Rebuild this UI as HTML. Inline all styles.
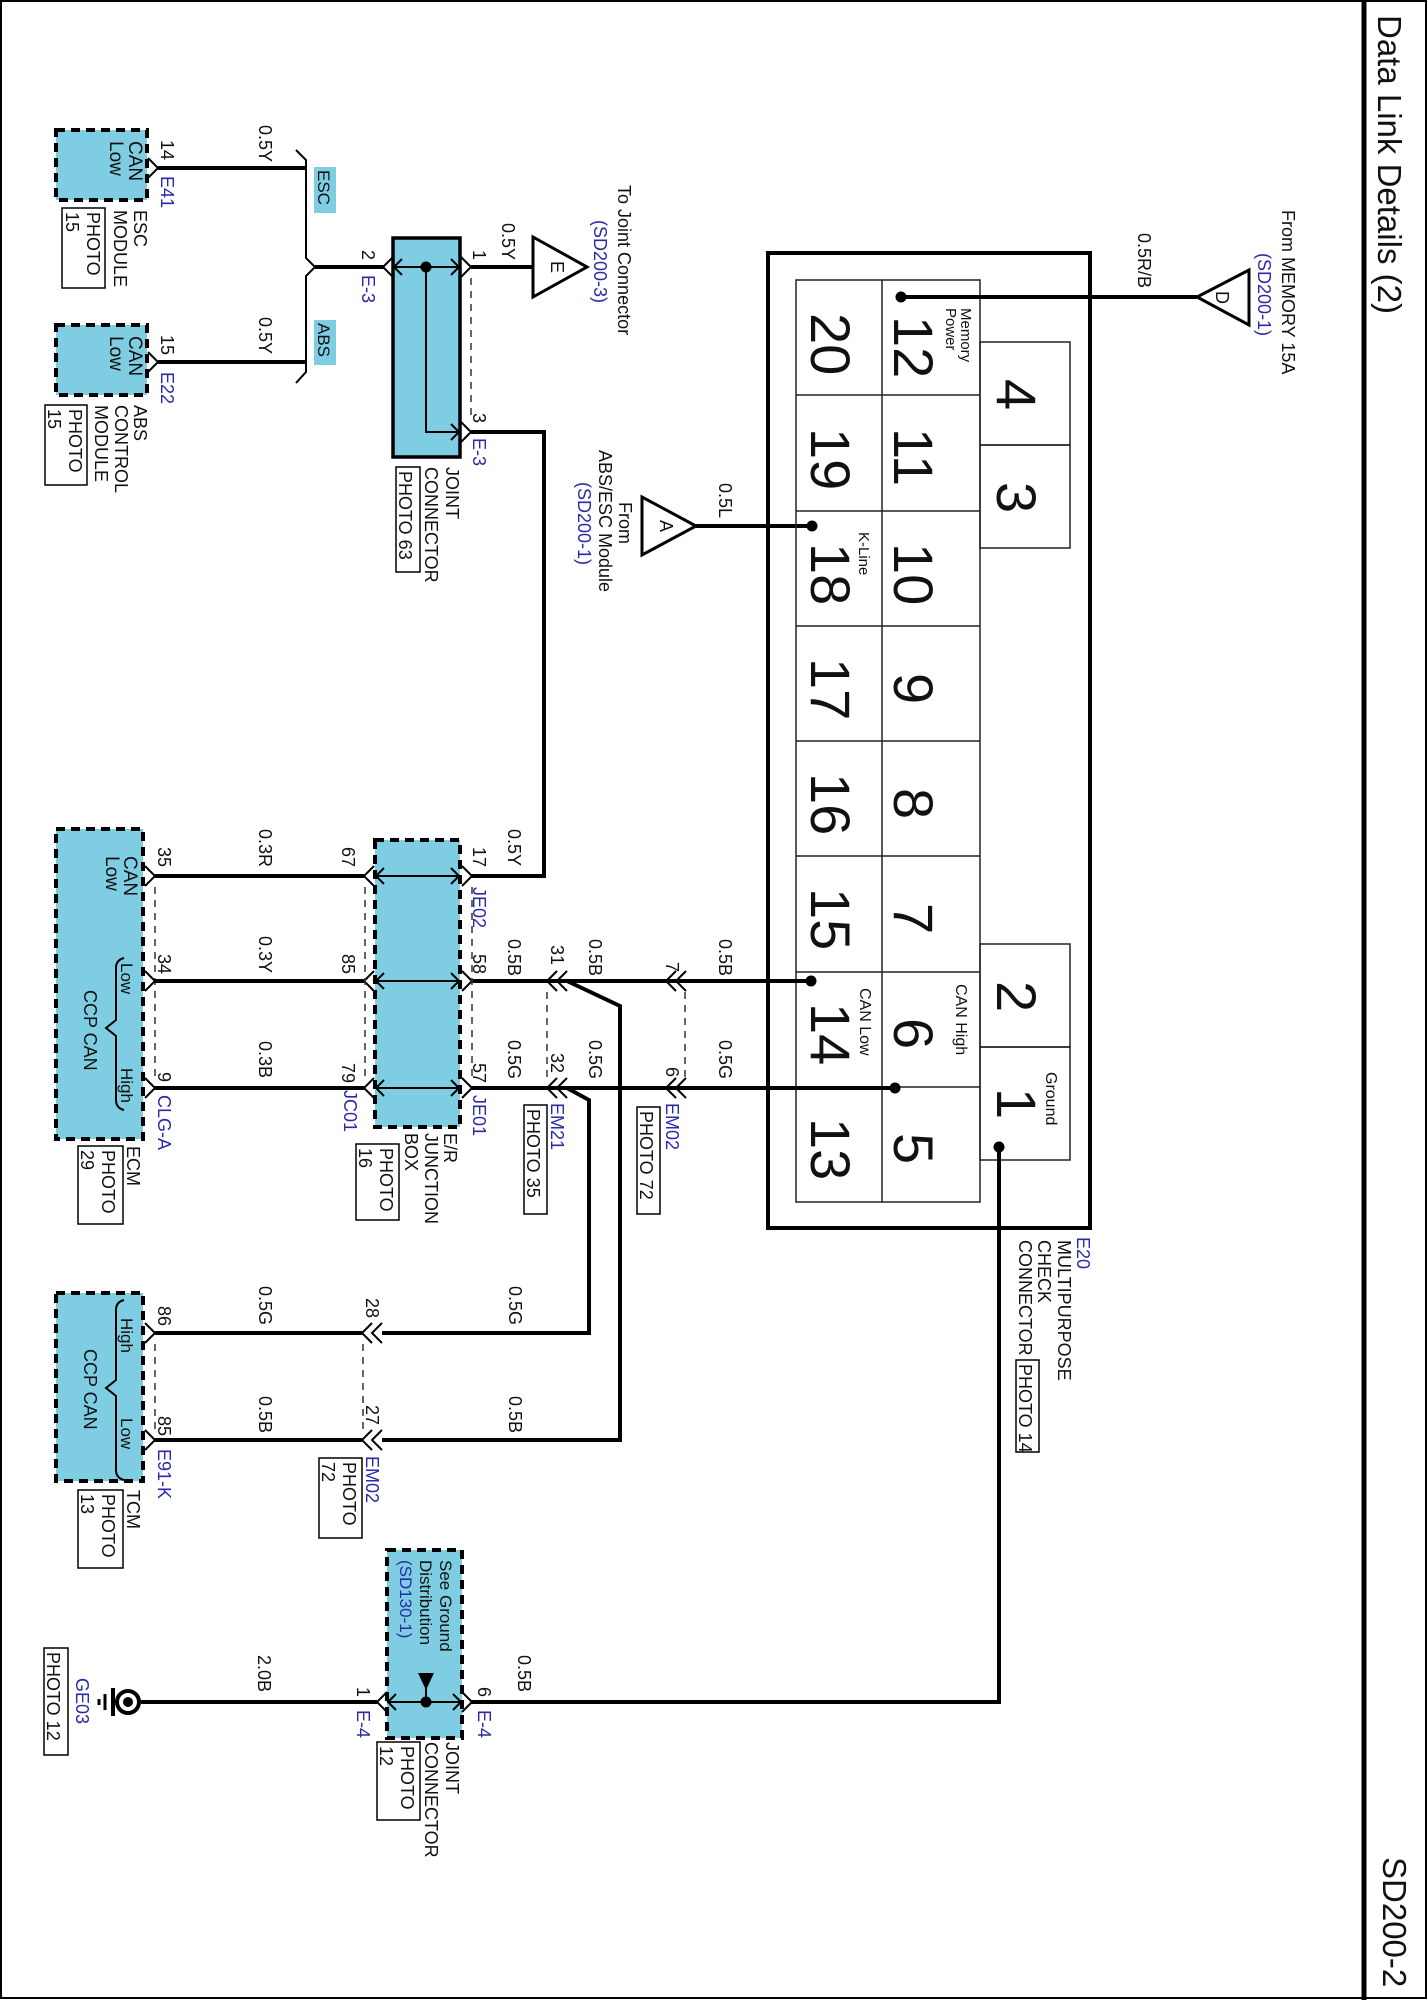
<!DOCTYPE html>
<html><head><meta charset="utf-8">
<style>
html,body{margin:0;padding:0;background:#fff;}
svg{display:block;}
text{font-family:"Liberation Sans",Arial,sans-serif;font-size:18px;fill:#111;}
.b{fill:#2a2aa8;}
.s{font-size:15px;}
.big{font-size:56px;}
.w{stroke:#000;stroke-width:4;fill:none;}
.th{stroke:#000;stroke-width:2;fill:none;}
.g{stroke:#222;stroke-width:1.5;fill:none;}
.d{stroke:#333;stroke-width:1.5;fill:none;stroke-dasharray:7 6;}
.box{fill:#7fcde2;stroke:#000;stroke-width:4;stroke-dasharray:9 6;}
.pb{fill:#fff;stroke:#000;stroke-width:1.5;}
</style></head><body>
<svg width="1428" height="2000" viewBox="0 0 1428 2000" xmlns="http://www.w3.org/2000/svg">
<rect x="1" y="1" width="1425" height="1997" fill="#fff" stroke="#000" stroke-width="2"/>
<line x1="1364" y1="0" x2="1364" y2="2000" stroke="#000" stroke-width="5"/>
<text transform="translate(1378,15) rotate(90)" style="font-size:33px">Data Link Details (2)</text>
<text transform="translate(1383,1857) rotate(90)" style="font-size:33px">SD200-2</text>

<!-- ESC module -->
<rect class="box" x="56" y="130" width="91" height="70"/>
<text transform="translate(129,141) rotate(90)" style="font-size:19px">CAN</text>
<text transform="translate(110,141) rotate(90)" style="font-size:19px">Low</text>
<text transform="translate(161,140) rotate(90)">14</text>
<text class="b" transform="translate(161,176) rotate(90)">E41</text>
<text transform="translate(134,210) rotate(90)">ESC</text>
<text transform="translate(114,210) rotate(90)">MODULE</text>
<rect class="pb" x="62" y="208" width="43" height="80"/>
<text transform="translate(87,212) rotate(90)">PHOTO</text>
<text transform="translate(66,212) rotate(90)">15</text>
<polyline class="th" points="148,158 158,168 148,178"/>
<line class="w" x1="158" y1="168" x2="306" y2="168"/>
<text transform="translate(259,125) rotate(90)">0.5Y</text>

<!-- ABS module -->
<rect class="box" x="56" y="325" width="91" height="70"/>
<text transform="translate(129,336) rotate(90)" style="font-size:19px">CAN</text>
<text transform="translate(110,336) rotate(90)" style="font-size:19px">Low</text>
<text transform="translate(161,335) rotate(90)">15</text>
<text class="b" transform="translate(161,372) rotate(90)">E22</text>
<text transform="translate(134,405) rotate(90)">ABS</text>
<text transform="translate(115,405) rotate(90)">CONTROL</text>
<text transform="translate(95,405) rotate(90)">MODULE</text>
<rect class="pb" x="45" y="405" width="42" height="80"/>
<text transform="translate(69,409) rotate(90)">PHOTO</text>
<text transform="translate(48,409) rotate(90)">15</text>
<polyline class="th" points="148,352 158,362 148,372"/>
<line class="w" x1="158" y1="362" x2="306" y2="362"/>
<text transform="translate(259,317) rotate(90)">0.5Y</text>

<!-- bracket -->
<path class="th" d="M296,150 L306,160 L306,258 L315,267 L306,276 L306,372 L296,383"/>
<line class="w" x1="315" y1="267" x2="384" y2="267"/>
<rect x="314" y="167" width="22" height="46" fill="#7fcde2"/>
<text transform="translate(318,170) rotate(90)" style="font-size:17px">ESC</text>
<rect x="314" y="320" width="22" height="45" fill="#7fcde2"/>
<text transform="translate(318,323) rotate(90)" style="font-size:17px">ABS</text>

<!-- E-3 joint connector -->
<rect x="393" y="238" width="67" height="219" fill="#7fcde2" stroke="#000" stroke-width="3.5"/>
<line class="th" x1="393" y1="267" x2="460" y2="267"/>
<polyline class="th" points="402,259 394,267 402,275"/>
<polyline class="th" points="451,259 459,267 451,275"/>
<circle cx="426" cy="267" r="5.5" fill="#000"/>
<path class="th" d="M426,267 V432 H460"/>
<polyline class="th" points="451,424 459,432 451,440"/>
<polyline class="th" points="393,257 383,267 393,277"/>
<polyline class="th" points="461,257 471,267 461,277"/>
<polyline class="th" points="461,422 471,432 461,442"/>
<line class="d" x1="471" y1="278" x2="471" y2="420"/>
<text transform="translate(362,250) rotate(90)">2</text>
<text class="b" transform="translate(362,275) rotate(90)">E-3</text>
<text transform="translate(473,250) rotate(90)">1</text>
<text transform="translate(502,223) rotate(90)">0.5Y</text>
<text transform="translate(473,413) rotate(90)">3</text>
<text class="b" transform="translate(473,438) rotate(90)">E-3</text>
<text transform="translate(446,467) rotate(90)">JOINT</text>
<text transform="translate(425,467) rotate(90)">CONNECTOR</text>
<rect class="pb" x="396" y="467" width="24" height="105"/>
<text transform="translate(399,471) rotate(90)">PHOTO 63</text>
<line class="w" x1="471" y1="267" x2="533" y2="267"/>
<polygon points="533,237 533,297 587,267" fill="#fff" stroke="#000" stroke-width="3"/>
<text transform="translate(551,261) rotate(90)">E</text>
<text transform="translate(618,185) rotate(90)">To Joint Connector</text>
<text class="b" transform="translate(594,220) rotate(90)">(SD200-3)</text>
<path class="w" d="M471,432 H544 V876 H471"/>

<!-- Triangle A -->
<polygon points="642,497 642,555 696,526" fill="#fff" stroke="#000" stroke-width="3"/>
<text transform="translate(660,520) rotate(90)">A</text>
<line class="w" x1="696" y1="526" x2="812" y2="526"/>
<circle cx="812" cy="526" r="5.5" fill="#000"/>
<text transform="translate(719,483) rotate(90)">0.5L</text>
<text transform="translate(619,502) rotate(90)">From</text>
<text transform="translate(599,450) rotate(90)">ABS/ESC Module</text>
<text class="b" transform="translate(578,482) rotate(90)">(SD200-1)</text>

<!-- Big connector E20 -->
<rect x="768" y="253" width="322" height="975" fill="none" stroke="#000" stroke-width="4"/>
<rect class="g" x="796" y="280" width="184" height="922"/>
<line class="g" x1="882" y1="280" x2="882" y2="1202"/>
<g class="g">
<line x1="796" y1="395" x2="980" y2="395"/><line x1="796" y1="511" x2="980" y2="511"/>
<line x1="796" y1="626" x2="980" y2="626"/><line x1="796" y1="741" x2="980" y2="741"/>
<line x1="796" y1="856" x2="980" y2="856"/><line x1="796" y1="972" x2="980" y2="972"/>
<line x1="796" y1="1087" x2="980" y2="1087"/>
</g>
<rect class="g" x="980" y="342" width="90" height="103"/>
<rect class="g" x="980" y="445" width="90" height="103"/>
<rect class="g" x="980" y="944" width="90" height="103"/>
<rect class="g" x="980" y="1047" width="90" height="113"/>
<g class="big">
<text class="big" transform="translate(811,313) rotate(90)">20</text>
<text class="big" transform="translate(811,428) rotate(90)">19</text>
<text class="big" transform="translate(811,543) rotate(90)">18</text>
<text class="big" transform="translate(811,658) rotate(90)">17</text>
<text class="big" transform="translate(811,773) rotate(90)">16</text>
<text class="big" transform="translate(811,888) rotate(90)">15</text>
<text class="big" transform="translate(811,1003) rotate(90)">14</text>
<text class="big" transform="translate(811,1118) rotate(90)">13</text>
<text class="big" transform="translate(894,316) rotate(90)">12</text>
<text class="big" transform="translate(894,428) rotate(90)">11</text>
<text class="big" transform="translate(894,543) rotate(90)">10</text>
<text class="big" transform="translate(894,673) rotate(90)">9</text>
<text class="big" transform="translate(894,788) rotate(90)">8</text>
<text class="big" transform="translate(894,903) rotate(90)">7</text>
<text class="big" transform="translate(894,1018) rotate(90)">6</text>
<text class="big" transform="translate(894,1133) rotate(90)">5</text>
<text class="big" transform="translate(997,379) rotate(90)">4</text>
<text class="big" transform="translate(997,482) rotate(90)">3</text>
<text class="big" transform="translate(997,981) rotate(90)">2</text>
<text class="big" transform="translate(997,1088) rotate(90)">1</text>
</g>
<text class="s" transform="translate(961,308) rotate(90)">Memory</text>
<text class="s" transform="translate(946,308) rotate(90)">Power</text>
<text class="s" transform="translate(859,532) rotate(90)">K-Line</text>
<text style="font-size:16px" transform="translate(860,988) rotate(90)">CAN Low</text>
<text style="font-size:16px" transform="translate(956,984) rotate(90)">CAN High</text>
<text style="font-size:16px" transform="translate(1046,1072) rotate(90)">Ground</text>
<circle cx="901" cy="297" r="5.5" fill="#000"/>
<line class="w" x1="901" y1="297" x2="1197" y2="297"/>
<polygon points="1249,270 1249,325 1197,297" fill="#fff" stroke="#000" stroke-width="3"/>
<text transform="translate(1216,291) rotate(90)">D</text>
<text transform="translate(1138,233) rotate(90)">0.5R/B</text>
<text transform="translate(1282,210) rotate(90)">From MEMORY  15A</text>
<text class="b" transform="translate(1258,253) rotate(90)">(SD200-1)</text>
<circle cx="811" cy="981" r="5.5" fill="#000"/>
<circle cx="895" cy="1088" r="5.5" fill="#000"/>
<circle cx="999" cy="1147" r="5.5" fill="#000"/>
<text class="b" transform="translate(1077,1237) rotate(90)">E20</text>
<text transform="translate(1058,1240) rotate(90)">MULTIPURPOSE</text>
<text transform="translate(1038,1240) rotate(90)">CHECK</text>
<text transform="translate(1019,1240) rotate(90)">CONNECTOR</text>
<rect class="pb" x="1016" y="1360" width="23" height="92"/>
<text transform="translate(1019,1364) rotate(90)">PHOTO 14</text>

<!-- main wires -->
<line class="w" x1="471" y1="981" x2="811" y2="981"/>
<line class="w" x1="471" y1="1088" x2="895" y2="1088"/>
<path class="w" d="M999,1147 V1702 H471"/>
<path class="w" d="M567,981 L620,1006 V1440 H382"/>
<path class="w" d="M567,1088 L589,1100 V1333 H382"/>
<!-- inline chevrons -->
<g class="th">
<polyline points="557,971 547,981 557,991"/><polyline points="567,971 557,981 567,991"/>
<polyline points="557,1078 547,1088 557,1098"/><polyline points="567,1078 557,1088 567,1098"/>
<polyline points="676,971 666,981 676,991"/><polyline points="686,971 676,981 686,991"/>
<polyline points="676,1078 666,1088 676,1098"/><polyline points="686,1078 676,1088 686,1098"/>
<polyline points="372,1323 362,1333 372,1343"/><polyline points="382,1323 372,1333 382,1343"/>
<polyline points="372,1430 362,1440 372,1450"/><polyline points="382,1430 372,1440 382,1450"/>
</g>
<line class="d" x1="547" y1="992" x2="547" y2="1078"/>
<line class="d" x1="685" y1="992" x2="685" y2="1078"/>
<line class="d" x1="363" y1="1344" x2="363" y2="1430"/>
<text transform="translate(551,945) rotate(90)">31</text>
<text transform="translate(551,1053) rotate(90)">32</text>
<text transform="translate(589,939) rotate(90)">0.5B</text>
<text transform="translate(589,1040) rotate(90)">0.5G</text>
<text class="b" transform="translate(551,1103) rotate(90)">EM21</text>
<rect class="pb" x="524" y="1105" width="23" height="109"/>
<text transform="translate(527,1109) rotate(90)">PHOTO 35</text>
<text transform="translate(666,962) rotate(90)">7</text>
<text transform="translate(666,1067) rotate(90)">6</text>
<text transform="translate(719,939) rotate(90)">0.5B</text>
<text transform="translate(719,1040) rotate(90)">0.5G</text>
<text class="b" transform="translate(666,1103) rotate(90)">EM02</text>
<rect class="pb" x="637" y="1107" width="23" height="107"/>
<text transform="translate(640,1111) rotate(90)">PHOTO 72</text>
<text transform="translate(508,829) rotate(90)">0.5Y</text>
<text transform="translate(508,939) rotate(90)">0.5B</text>
<text transform="translate(508,1040) rotate(90)">0.5G</text>

<!-- ECM -->
<rect class="box" x="56" y="829" width="87" height="310"/>
<text transform="translate(124,856) rotate(90)" style="font-size:19px">CAN</text>
<text transform="translate(106,856) rotate(90)" style="font-size:19px">Low</text>
<path class="th" d="M124,958 Q116,960 116,968 V1020 L106,1028 L116,1036 V1100 Q116,1108 124,1110"/>
<text transform="translate(121,963) rotate(90)" style="font-size:17px">Low</text>
<text transform="translate(121,1068) rotate(90)" style="font-size:17px">High</text>
<text transform="translate(84,990) rotate(90)">CCP CAN</text>
<text transform="translate(158,847) rotate(90)">35</text>
<text transform="translate(158,954) rotate(90)">34</text>
<text transform="translate(158,1072) rotate(90)">9</text>
<text class="b" transform="translate(158,1095) rotate(90)">CLG-A</text>
<line class="d" x1="155" y1="887" x2="155" y2="1077"/>
<g class="th">
<polyline points="145,866 155,876 145,886"/><polyline points="145,971 155,981 145,991"/><polyline points="145,1078 155,1088 145,1098"/>
</g>
<line class="w" x1="155" y1="876" x2="364" y2="876"/>
<line class="w" x1="155" y1="981" x2="364" y2="981"/>
<line class="w" x1="155" y1="1088" x2="364" y2="1088"/>
<text transform="translate(259,829) rotate(90)">0.3R</text>
<text transform="translate(259,936) rotate(90)">0.3Y</text>
<text transform="translate(259,1041) rotate(90)">0.3B</text>
<text transform="translate(127,1146) rotate(90)">ECM</text>
<rect class="pb" x="78" y="1146" width="45" height="78"/>
<text transform="translate(102,1150) rotate(90)">PHOTO</text>
<text transform="translate(81,1150) rotate(90)">29</text>

<!-- E/R junction box -->
<rect class="box" x="375" y="840" width="85" height="287"/>
<g class="th">
<line x1="375" y1="876" x2="460" y2="876"/><line x1="375" y1="981" x2="460" y2="981"/><line x1="375" y1="1088" x2="460" y2="1088"/>
<polyline points="384,868 376,876 384,884"/><polyline points="451,868 459,876 451,884"/>
<polyline points="384,973 376,981 384,989"/><polyline points="451,973 459,981 451,989"/>
<polyline points="384,1080 376,1088 384,1096"/><polyline points="451,1080 459,1088 451,1096"/>
<polyline points="374,866 364,876 374,886"/><polyline points="374,971 364,981 374,991"/><polyline points="374,1078 364,1088 374,1098"/>
<polyline points="462,866 472,876 462,886"/><polyline points="462,971 472,981 462,991"/><polyline points="462,1078 472,1088 462,1098"/>
</g>
<line class="d" x1="365" y1="887" x2="365" y2="1077"/>
<line class="d" x1="472" y1="887" x2="472" y2="1077"/>
<text transform="translate(342,847) rotate(90)">67</text>
<text transform="translate(342,954) rotate(90)">85</text>
<text transform="translate(342,1063) rotate(90)">79</text>
<text class="b" transform="translate(344,1090) rotate(90)">JC01</text>
<text transform="translate(473,847) rotate(90)">17</text>
<text class="b" transform="translate(473,887) rotate(90)">JE02</text>
<text transform="translate(473,954) rotate(90)">58</text>
<text transform="translate(473,1063) rotate(90)">57</text>
<text class="b" transform="translate(473,1095) rotate(90)">JE01</text>
<text transform="translate(444,1133) rotate(90)">E/R</text>
<text transform="translate(425,1133) rotate(90)">JUNCTION</text>
<text transform="translate(405,1133) rotate(90)">BOX</text>
<rect class="pb" x="356" y="1144" width="43" height="76"/>
<text transform="translate(380,1148) rotate(90)">PHOTO</text>
<text transform="translate(359,1148) rotate(90)">16</text>

<!-- TCM -->
<rect class="box" x="56" y="1293" width="87" height="188"/>
<path class="th" d="M124,1300 Q116,1302 116,1310 V1380 L106,1388 L116,1396 V1470 Q116,1478 124,1480"/>
<text transform="translate(121,1318) rotate(90)" style="font-size:17px">High</text>
<text transform="translate(121,1418) rotate(90)" style="font-size:17px">Low</text>
<text transform="translate(84,1349) rotate(90)">CCP CAN</text>
<text transform="translate(158,1306) rotate(90)">86</text>
<text transform="translate(158,1416) rotate(90)">85</text>
<text class="b" transform="translate(158,1449) rotate(90)">E91-K</text>
<line class="d" x1="155" y1="1344" x2="155" y2="1430"/>
<g class="th"><polyline points="145,1323 155,1333 145,1343"/><polyline points="145,1430 155,1440 145,1450"/></g>
<line class="w" x1="155" y1="1333" x2="362" y2="1333"/>
<line class="w" x1="155" y1="1440" x2="362" y2="1440"/>
<text transform="translate(259,1286) rotate(90)">0.5G</text>
<text transform="translate(259,1396) rotate(90)">0.5B</text>
<text transform="translate(509,1286) rotate(90)">0.5G</text>
<text transform="translate(509,1396) rotate(90)">0.5B</text>
<text transform="translate(366,1298) rotate(90)">28</text>
<text transform="translate(366,1405) rotate(90)">27</text>
<text class="b" transform="translate(366,1456) rotate(90)">EM02</text>
<rect class="pb" x="319" y="1458" width="43" height="80"/>
<text transform="translate(343,1462) rotate(90)">PHOTO</text>
<text transform="translate(322,1462) rotate(90)">72</text>
<text transform="translate(127,1490) rotate(90)">TCM</text>
<rect class="pb" x="78" y="1490" width="45" height="78"/>
<text transform="translate(102,1494) rotate(90)">PHOTO</text>
<text transform="translate(81,1494) rotate(90)">13</text>

<!-- E-4 ground joint -->
<rect class="box" x="387" y="1550" width="75" height="188"/>
<text transform="translate(440,1560) rotate(90)" style="font-size:17px">See Ground</text>
<text transform="translate(420,1560) rotate(90)" style="font-size:17px">Distribution</text>
<text class="b" transform="translate(400,1560) rotate(90)" style="font-size:17px">(SD130-1)</text>
<polygon points="418,1673 434,1673 426,1690" fill="#000"/>
<line class="th" x1="426" y1="1688" x2="426" y2="1702"/>
<line class="th" x1="387" y1="1702" x2="462" y2="1702"/>
<polyline class="th" points="396,1694 388,1702 396,1710"/>
<polyline class="th" points="453,1694 461,1702 453,1710"/>
<circle cx="426" cy="1702" r="5.5" fill="#000"/>
<polyline class="th" points="387,1692 377,1702 387,1712"/>
<polyline class="th" points="462,1692 472,1702 462,1712"/>
<line class="w" x1="141" y1="1702" x2="377" y2="1702"/>
<text transform="translate(357,1687) rotate(90)">1</text>
<text class="b" transform="translate(357,1710) rotate(90)">E-4</text>
<text transform="translate(478,1687) rotate(90)">6</text>
<text class="b" transform="translate(478,1710) rotate(90)">E-4</text>
<text transform="translate(258,1655) rotate(90)">2.0B</text>
<text transform="translate(518,1655) rotate(90)">0.5B</text>
<text transform="translate(446,1742) rotate(90)">JOINT</text>
<text transform="translate(425,1742) rotate(90)">CONNECTOR</text>
<rect class="pb" x="377" y="1742" width="43" height="78"/>
<text transform="translate(401,1746) rotate(90)">PHOTO</text>
<text transform="translate(380,1746) rotate(90)">12</text>
<!-- ground symbol -->
<circle cx="128" cy="1702" r="11" fill="#fff" stroke="#000" stroke-width="4"/>
<circle cx="128" cy="1702" r="5" fill="#000"/>
<line x1="113" y1="1688" x2="113" y2="1716" stroke="#000" stroke-width="4"/>
<line x1="105" y1="1694" x2="105" y2="1710" stroke="#000" stroke-width="3"/>
<line x1="99" y1="1699" x2="99" y2="1705" stroke="#000" stroke-width="3"/>
<text class="b" transform="translate(76,1678) rotate(90)">GE03</text>
<rect class="pb" x="44" y="1648" width="24" height="107"/>
<text transform="translate(47,1652) rotate(90)">PHOTO 12</text>
</svg>
</body></html>
